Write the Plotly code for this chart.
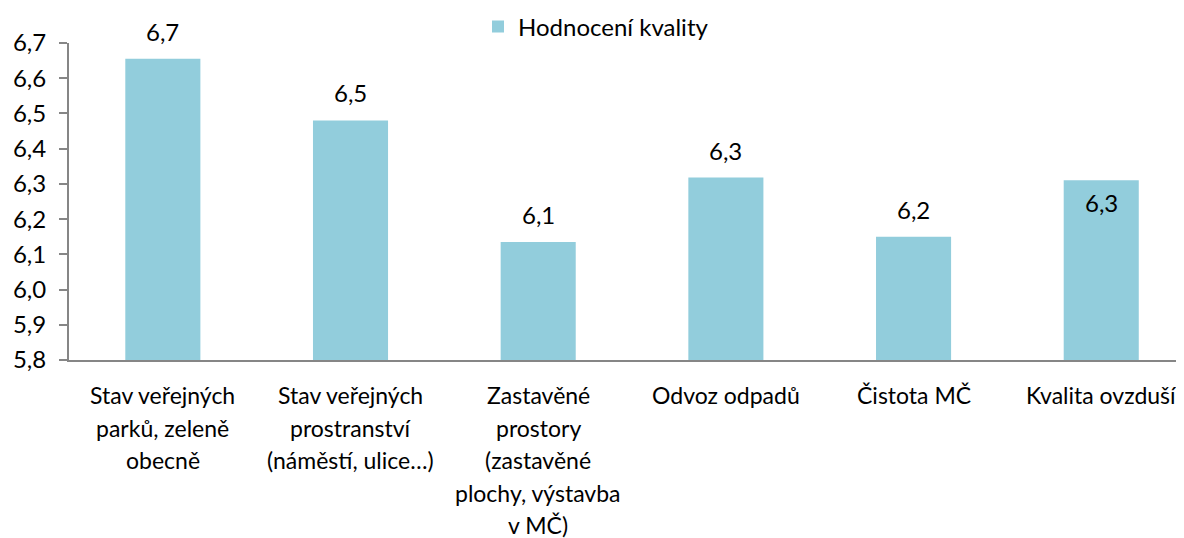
import plotly.graph_objects as go

categories = [
    "Stav veřejných<br>parků, zeleně<br>obecně",
    "Stav veřejných<br>prostranství<br>(náměstí, ulice…)",
    "Zastavěné<br>prostory<br>(zastavěné<br>plochy, výstavba<br>v MČ)",
    "Odvoz odpadů",
    "Čistota MČ",
    "Kvalita ovzduší",
]
values = [6.655, 6.480, 6.135, 6.318, 6.150, 6.310]
label_inside = [False, False, False, False, False, True]
series_name = "Hodnocení kvality"
y_ticks = [5.8, 5.9, 6.0, 6.1, 6.2, 6.3, 6.4, 6.5, 6.6, 6.7]

FONT = "Lato"
FS = 24
FS_CAT = 23
BAR = "#92CDDC"
AXIS = "#868686"

# the page body adds an 8px margin; size the figure to fill the rest of the window
W, H = 1176, 530

xs = list(range(len(categories)))

fig = go.Figure()
fig.add_trace(go.Bar(
    x=xs, y=values, name=series_name,
    marker=dict(color=BAR, line=dict(width=0)),
    width=0.4,
))

ann = []
for i, (v, inside) in enumerate(zip(values, label_inside)):
    txt = f"{v:.1f}".replace(".", ",")
    if inside:
        ann.append(dict(x=i, y=v, xref="x", yref="y", text=txt, showarrow=False,
                        yanchor="top", yshift=-6, font=dict(family=FONT, size=FS, color="#000")))
    else:
        ann.append(dict(x=i, y=v, xref="x", yref="y", text=txt, showarrow=False,
                        yanchor="bottom", yshift=11, font=dict(family=FONT, size=FS, color="#000")))

for i, cat in enumerate(categories):
    for j, line in enumerate(cat.split("<br>")):
        ann.append(dict(x=i, y=0, xref="x", yref="paper", text=line, showarrow=False,
                        yanchor="middle", yshift=-(35 + j * 32.5),
                        font=dict(family=FONT, size=FS_CAT, color="#000")))

fig.update_layout(
    width=W, height=H,
    margin=dict(l=61, r=0, t=35, b=178, autoexpand=False),
    paper_bgcolor="white", plot_bgcolor="white",
    font=dict(family=FONT, size=FS, color="#000"),
    separators=", ",
    showlegend=True,
    legend=dict(x=(470 - 61) / 1115, xanchor="left",
                y=1 - 19 / H, yref="container", yanchor="middle",
                orientation="h", font=dict(family=FONT, size=FS, color="#000"),
                bgcolor="rgba(0,0,0,0)", itemwidth=30),
    annotations=ann,
    xaxis=dict(range=[-0.5, 5.441], showticklabels=False, ticks="",
               showline=True, linecolor=AXIS, linewidth=2, showgrid=False, zeroline=False,
               fixedrange=True),
    yaxis=dict(range=[5.8, 6.7], tickvals=y_ticks, tickformat=".1f",
               ticks="outside", ticklen=8, tickcolor=AXIS, tickwidth=1.5,
               showline=True, linecolor=AXIS, linewidth=2, showgrid=False, zeroline=False,
               ticklabelstandoff=8, automargin=False,
               tickfont=dict(family=FONT, size=FS, color="#000")),
)

fig.write_html("out.html")
